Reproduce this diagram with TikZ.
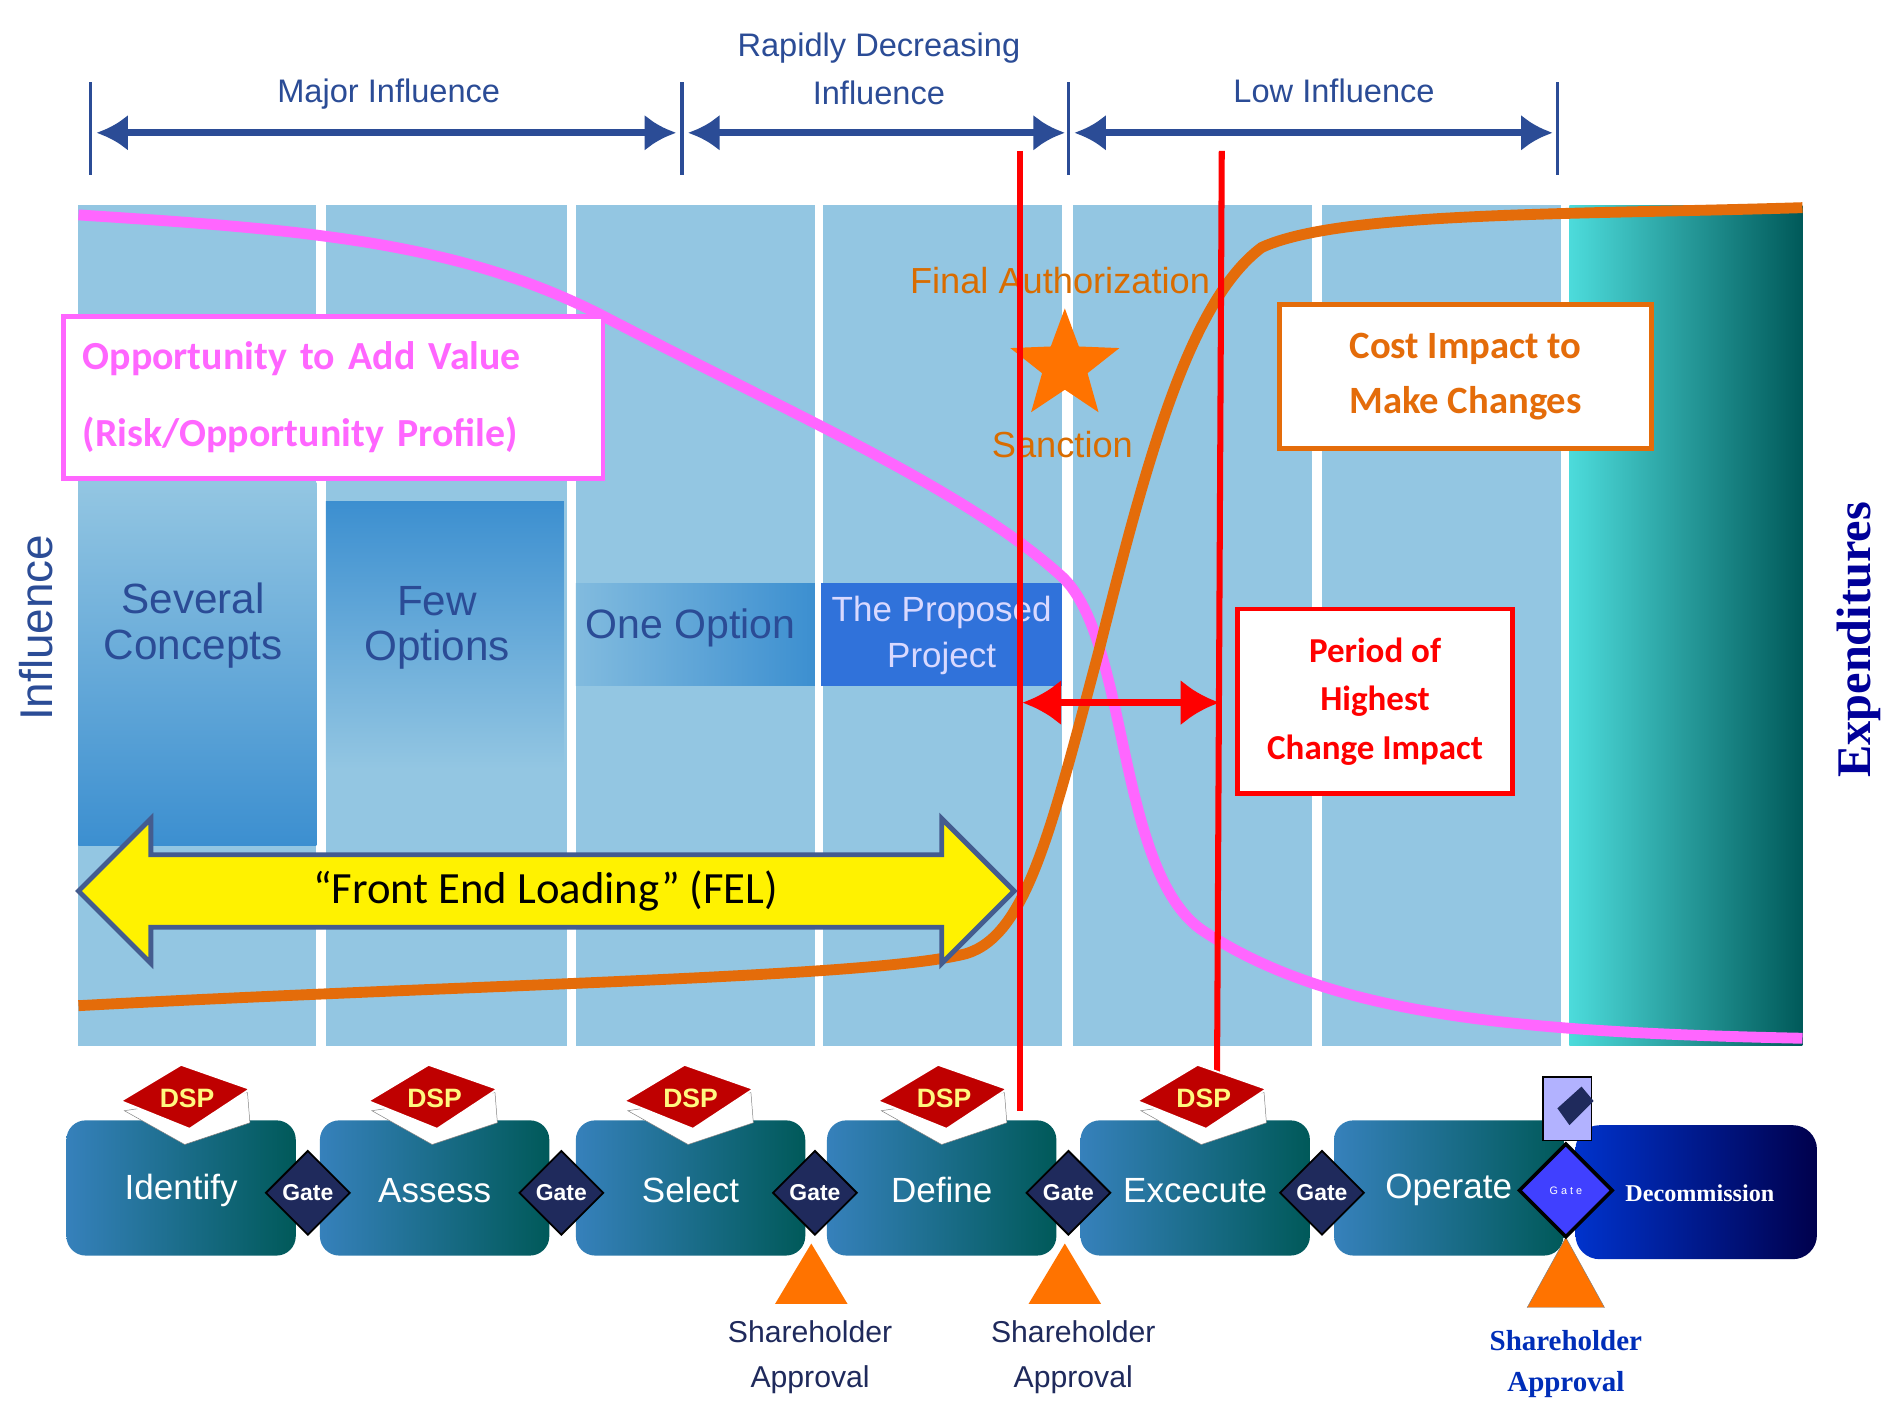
\documentclass[tikz,border=0pt]{standalone}
\usepackage{fontspec}
\setmainfont{Liberation Sans}
\newfontfamily\calfnt{Carlito}
\newfontfamily\serfnt{Liberation Serif}
\usetikzlibrary{arrows.meta,shapes.geometric}
\definecolor{dblue}{HTML}{2B4C96}
\definecolor{lblue}{HTML}{93C6E2}
\definecolor{mblue}{HTML}{3C8FD0}
\definecolor{pink}{HTML}{FF66FF}
\definecolor{org}{HTML}{E46C0A}
\definecolor{navy}{HTML}{1F2A5C}
\begin{document}
\begin{tikzpicture}[x=1pt,y=-1pt,
 top/.style={dblue,line width=6pt,{Latex[length=26pt,width=30pt]}-{Latex[length=26pt,width=30pt]}},
 tick/.style={dblue,line width=3pt},
 toplab/.style={text=dblue,font=\fontsize{27}{40}\selectfont,align=center},
 stage/.style={rounded corners=16pt,draw=none,left color=mblue!90!black,right color=teal!70!black},
 stl/.style={text=white,font=\fontsize{29}{30}\selectfont},
 gate/.style={diamond,fill=navy,draw=black,line width=1.5pt,inner sep=0pt,minimum size=70pt,text=white,font=\bfseries\fontsize{19}{20}\selectfont},
 book/.style={fill=red!75!black,draw=white,line width=1.5pt},
 tri/.style={fill=orange!90!red,draw=none},
 shl/.style={text=navy,font=\fontsize{25}{37}\selectfont,align=center}]
\useasboundingbox (0,0) rectangle (1568,1170);
\fill[white] (0,0) rectangle (1568,1170);
% top
\foreach \x in {75,565,885,1290} \draw[tick] (\x,68)--(\x,145);
\coordinate (a1) at (80,110); \coordinate (a2) at (560,110);
\coordinate (b1) at (570,110); \coordinate (b2) at (882,110);
\coordinate (c1) at (890,110); \coordinate (c2) at (1286,110);
\draw[top] (a1)--(a2); \draw[top] (b1)--(b2); \draw[top] (c1)--(c2);
\node[toplab] (t1) at (322,78) {Major Influence};
\node[toplab] (t2) at (728,57) {Rapidly Decreasing\\Influence};
\node[toplab] (t3) at (1105,75) {Low Influence};
% columns
\foreach \a/\b in {65/262,270/470,477/675,682/880,889/1087,1095/1293} \fill[lblue] (\a,170) rectangle (\b,866);
\shade[left color=teal!40!cyan!70!white,right color=teal!70!black] (1300,170) rectangle (1493,866);
\shade[top color=lblue,bottom color=mblue] (65,400) rectangle (262,700);
\shade[top color=mblue,bottom color=lblue] (270,415) rectangle (467,637);
\shade[left color=lblue!80!mblue,right color=mblue] (477,483) rectangle (675,568);
\fill[mblue!80!blue] (680,483) rectangle (880,568);
\node[text=dblue,font=\fontsize{35}{38}\selectfont,align=center] (sc) at (160,518) {Several\\Concepts};
\node[text=dblue,font=\fontsize{35}{38}\selectfont,align=center] (fo) at (362,520) {Few\\Options};
\node[text=dblue,font=\fontsize{34}{36}\selectfont] (oo) at (572,520) {One Option};
\node[text=white!85!blue,font=\fontsize{29}{38}\selectfont,align=center] (pp) at (780,526) {The Proposed\\Project};
% sanction
\node[text=orange!85!black,font=\fontsize{30}{30}\selectfont] (fa) at (878,232) {Final Authorization};
\node[star,star points=5,star point ratio=2.4,fill=orange!90!red,minimum size=95pt,inner sep=0pt] (st) at (882,303) {};
\node[text=orange!85!black,font=\fontsize{30}{30}\selectfont] (sa) at (880,368) {Sanction};
% curves
\draw[pink,line width=9pt] (65,178) .. controls (250,190) and (380,200) .. (500,262) .. controls (650,340) and (800,405) .. (880,478) .. controls (935,530) and (925,720) .. (995,770) .. controls (1100,840) and (1250,855) .. (1493,860);
\draw[org,line width=9pt] (65,833) .. controls (400,815) and (720,810) .. (800,790) .. controls (850,775) and (870,690) .. (910,540) .. controls (950,380) and (985,250) .. (1045,205) .. controls (1110,175) and (1300,178) .. (1493,172);
% red
\coordinate (r1a) at (845,125); \coordinate (r1b) at (845,920);
\coordinate (r2a) at (1012,125); \coordinate (r2b) at (1008,905);
\draw[red,line width=5pt] (r1a)--(r1b); \draw[red,line width=5pt] (r2a)--(r2b);
\coordinate (p1) at (847,582); \coordinate (p2) at (1010,582);
\draw[red,line width=6pt,{Latex[length=32pt,width=38pt]}-{Latex[length=32pt,width=38pt]}] (p1)--(p2);
% boxes
\node[draw=pink,line width=4pt,fill=white,minimum width=447pt,minimum height=134pt,text=pink,font=\calfnt\bfseries\fontsize{33}{64}\selectfont,align=left,text width=415pt] (ob) at (276,329) {Opportunity to Add Value\\(Risk/Opportunity Profile)};
\node[draw=org,line width=4pt,fill=white,minimum width=308pt,minimum height=119pt,text=org,font=\calfnt\bfseries\fontsize{32}{46}\selectfont,align=center] (cb) at (1214,312) {Cost Impact to\\Make Changes};
\node[draw=red,line width=4pt,fill=white,minimum width=228pt,minimum height=153pt,text=red,font=\calfnt\bfseries\fontsize{29}{40}\selectfont,align=center] (pb) at (1139,581) {Period of\\Highest\\Change Impact};
% FEL
\draw[dblue!70!gray,line width=4pt,fill=yellow] (65,738)--(125,678)--(125,708)--(780,708)--(780,678)--(840,738)--(780,798)--(780,768)--(125,768)--(125,798)--cycle;
\node[font=\calfnt\fontsize{37}{38}\selectfont] (fel) at (452,738) {“Front End Loading” (FEL)};
% side labels
\node[rotate=90,text=dblue,font=\fontsize{38}{40}\selectfont] (inf) at (30,520) {Influence};
\node[rotate=90,text=blue!60!black,font=\serfnt\bfseries\fontsize{40}{40}\selectfont] (exp) at (1540,530) {Expenditures};
% stages
\foreach \x/\t in {55/Identify,265/Assess,477/Select,685/Define,895/Excecute,1105/Operate} {
 \shade[stage] (\x,928) rectangle ++(190,112);
 \node[stl] at (\x+95,986) {\t};}
\shade[rounded corners=20pt,left color=blue!60!teal,right color=blue!30!black] (1305,932) rectangle (1505,1043);
\node[text=white,font=\serfnt\bfseries\fontsize{20}{24}\selectfont] (dec) at (1408,988) {Decommission};
% books
\foreach \x in {155,360,572,782,997} {
 \fill[white,draw=gray] (\x-52,920)--(\x+50,905)--(\x+52,930)--(\x-2,948)--cycle;
 \fill[book] (\x-55,912)--(\x-5,882)--(\x+52,902)--(\x+2,935)--cycle;
 \node[text=yellow!50!white,font=\bfseries\fontsize{22}{22}\selectfont] at (\x,910) {DSP};}
% triangles
\foreach \x in {672,882} \fill[tri] (\x,1030)--(\x-30,1080)--(\x+30,1080)--cycle;
\fill[tri,draw=gray] (1297,1025)--(1265,1083)--(1329,1083)--cycle;
% gates
\foreach \x/\n in {255/g1,465/g2,675/g3,885/g4,1095/g5}
 \node[gate] (\n) at (\x,988) {Gate};
\node[diamond,fill=blue!75!white,draw=black,line width=3pt,minimum size=78pt,inner sep=0pt,text=white,font=\fontsize{9}{10}\selectfont] (g6) at (1297,986) {G a t e};
\fill[blue!30!white,draw=black,line width=1pt] (1278,892) rectangle (1318,945);
\fill[navy] (1290,918)--(1310,900)--(1320,912)--(1300,932)--cycle;
\node[shl] (s1) at (671,1124) {Shareholder\\Approval};
\node[shl] (s2) at (889,1124) {Shareholder\\Approval};
\node[text=blue!60!teal!90!black,font=\serfnt\bfseries\fontsize{24}{34}\selectfont,align=center] (s3) at (1297,1130) {Shareholder\\Approval};
\end{tikzpicture}
\end{document}
